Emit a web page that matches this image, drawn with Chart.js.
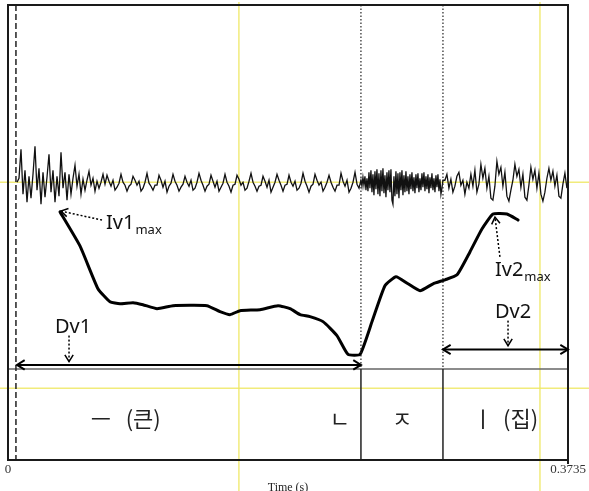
<!DOCTYPE html>
<html>
<head>
<meta charset="utf-8">
<script src="https://cdn.jsdelivr.net/npm/chart.js@4.4.0/dist/chart.umd.min.js"></script>
<style>
html, body { margin: 0; padding: 0; background: #fff; }
</style>
</head>
<body>
<canvas id="speechChart" width="589" height="491"></canvas>
<script>
// time axis (s)
const timeMin = 0;
const timeMax = 0.3735;

// waveform, amplitude in arbitrary units
// vowel part ("ㅡ", "ㄴ"): sample i at onsetStart + i * coarseStep
const onsetStart = 0.006;
const coarseStep = 0.001334;
const onsetValues = [
    0, 4, 33, -12, 12, -20, 6, -16, 8, 36,
    -8, 14, -22, 10, -15, 5, 28, -10, 12, -20,
    6, -14, 30, -6, 10, -18, 8, -12, 4, 17,
    -4, 8, -12, 3, -8, 2, 11, -3, 4, -9,
    1, -6, 0, 8,
    -2, 7, 1, -4, 2, -8, -5,
    -1, 8, 0, -3, -9, -4,
    -2, 6, 2, -3, 1, -9, -6,
    0, 9, -1, -4, -8, -3,
    -3, 7, 2, -5, 1, -10, -4,
    -1, 8, 1, -3, -9, -5,
    -2, 6, 0, -4, 2, -8, -6,
    0, 9, 2, -3, -9, -4,
    -2, 7, 1, -5, 1, -9, -5,
    -1, 8, 0, -4, -10, -3,
    -2, 7, 3, -3, 0, -8, -6,
    1, 9, 0, -4, -9, -4,
    -3, 6, 1, -5, 2, -10, -5,
    0, 8, 2, -3, -9, -3,
    -2, 7, 0, -4, 1, -8, -6,
    -1, 9, 1, -4, -10, -4,
    -2, 8, 2, -3, 0, -9, -5,
    0, 7, 0, -5, -9, -3,
    -3, 9, 1, -4, 2, -10, -6,
    0, 10, -2, -6
];
// affricate "ㅈ": finer sampling
const fricStart = 0.2354;
const fineStep = 0.000667;
const fricValues = [
    2, -4, 5, -3, 6, -8, 4, -9, 10, -6,
    12, -10, 8, -13, 11, -7, 13, -12, 9, -14,
    12, -9, 14, -11, 7, -15, 10, -8, 12, -10,
    13, -18, -22, 6, -14, 11, -12, 9, -16, 10,
    -8, 12, -13, 7, -10, 11, -9, 6, -12, 8,
    -7, 10, -9, 5, -11, 8, -6, 9, -10, 4,
    -8, 9, -5, 10, -9, 6, -7, 8, -11, 5,
    -6, 9, -8, 4, -10, 7, -5, 8, -9, 3, -12, -6, 2
];
// vowel "ㅣ"
const finalStart = 0.2914;
const finalValues = [
    2, 8, -6, 3, -10, -4,
    6, 10, -3, 2, -12, 0, -6,
    8, -4, 12, -10, -2,
    18, 4, 14, -6, 6, -16, -18, -4,
    21, 8, 15, -4, 10, -14, -19, -8, 2,
    18, 6, 13, -5, 8, -15, -18, -3,
    15, 3, 12, -6, 9, -12, -19, -10, 4,
    14, 2, 11, -4, 7, -14, -16, -2, 9, -6
];

// intensity contour (dB)
const intensityTimes = [0.0347, 0.0480, 0.0600, 0.0680, 0.0747, 0.0834, 0.0900, 0.0994, 0.1101, 0.1327,
    0.1414, 0.1481, 0.1547, 0.1681, 0.1801, 0.1881, 0.1948, 0.2014, 0.2101, 0.2194,
    0.2268, 0.2348, 0.2428, 0.2514, 0.2588, 0.2668, 0.2748, 0.2835, 0.2915, 0.2995,
    0.3081, 0.3161, 0.3235, 0.3328, 0.3402];
const intensityDb = [79.8, 71.25, 60.5, 57.25, 56.75, 57.0, 56.5, 55.5, 56.25, 56.25,
    54.75, 54.0, 55.0, 55.25, 56.25, 55.5, 54.0, 53.5, 52.25, 48.75,
    44.0, 44.0, 52.25, 61.25, 63.5, 61.75, 60.0, 61.75, 62.75, 64.0,
    69.75, 75.5, 79.25, 79.25, 77.75];

// text tier: boundaries and labels
const segmentBounds = [0.0053, 0.2354, 0.2901];
const tierLabels = ['ㅡ   (큰)', 'ㄴ', 'ㅈ', 'ㅣ  (집)'];
const tierLabelTimes = [0.0785, 0.2214, 0.2628, 0.3318];

// yellow cursors
const cursorTimes = [0.154, 0.3548];

function line(ctx, x0, y0, x1, y1) {
    ctx.beginPath();
    ctx.moveTo(x0, y0);
    ctx.lineTo(x1, y1);
    ctx.stroke();
}

function arrowHead(ctx, x0, y0, x1, y1, size) {
    const a = Math.atan2(y1 - y0, x1 - x0);
    ctx.save();
    ctx.setLineDash([]);
    ctx.beginPath();
    ctx.moveTo(x1 - size * Math.cos(a - 0.55), y1 - size * Math.sin(a - 0.55));
    ctx.lineTo(x1, y1);
    ctx.lineTo(x1 - size * Math.cos(a + 0.55), y1 - size * Math.sin(a + 0.55));
    ctx.stroke();
    ctx.restore();
}

const sampled = (start, step, values) => values.map((v, i) => ({ x: start + i * step, y: v }));

const praatAnnotations = {
    id: 'praatAnnotations',
    beforeDatasetsDraw(chart) {
        const { ctx, scales: { x, yWave, yInt } } = chart;
        ctx.save();
        ctx.strokeStyle = 'rgba(238, 232, 100, 0.85)';
        ctx.lineWidth = 1.5;
        cursorTimes.forEach(t => {
            const px = x.getPixelForValue(t);
            line(ctx, px, 2, px, chart.height);
        });
        [yWave.getPixelForValue(0), yInt.getPixelForValue(35.5)].forEach(py => {
            line(ctx, 0, py, chart.width, py);
        });
        ctx.restore();
    },
    afterDatasetsDraw(chart) {
        const { ctx, chartArea: area, scales: { x, yInt } } = chart;
        const px = t => x.getPixelForValue(t);
        const py = db => yInt.getPixelForValue(db);
        const tierTop = py(40.375);
        ctx.save();

        // tier line
        ctx.strokeStyle = '#666';
        ctx.lineWidth = 1.5;
        line(ctx, area.left, tierTop, area.right, tierTop);

        // start boundary, dashed
        ctx.strokeStyle = '#222';
        ctx.setLineDash([6, 3]);
        line(ctx, px(segmentBounds[0]), area.top, px(segmentBounds[0]), area.bottom);

        // other boundaries: dotted over the signal, solid in the tier
        segmentBounds.slice(1).forEach(t => {
            ctx.lineWidth = 1.2;
            ctx.setLineDash([1.5, 2]);
            line(ctx, px(t), area.top, px(t), tierTop);
            ctx.setLineDash([]);
            ctx.lineWidth = 1.5;
            line(ctx, px(t), tierTop, px(t), area.bottom);
        });

        // frame
        ctx.setLineDash([]);
        ctx.strokeStyle = '#1a1a1a';
        ctx.lineWidth = 2;
        ctx.strokeRect(area.left, area.top, area.right - area.left, area.bottom - area.top);
        line(ctx, area.right, area.bottom, area.right, area.bottom + 4);

        // tier labels
        ctx.fillStyle = '#222';
        ctx.font = '22px "Noto Sans CJK KR"';
        ctx.textAlign = 'center';
        ctx.textBaseline = 'middle';
        tierLabels.forEach((lab, i) => ctx.fillText(lab, px(tierLabelTimes[i]), py(28)));

        // duration arrows
        ctx.strokeStyle = '#000';
        ctx.lineWidth = 2;
        [[segmentBounds[0] + 0.0007, segmentBounds[1], 41.375], [segmentBounds[2], timeMax, 45.25]].forEach(([t0, t1, db]) => {
            const y = py(db);
            line(ctx, px(t0), y, px(t1), y);
            arrowHead(ctx, px(t1), y, px(t0), y, 9);
            arrowHead(ctx, px(t0), y, px(t1), y, 9);
        });

        // dotted pointer arrows
        ctx.lineWidth = 1.5;
        [[0.0627, 77.75, 0.0353, 80.0], [0.0407, 48.75, 0.0407, 42.2],
         [0.3281, 68.5, 0.3248, 78.5], [0.3335, 52.5, 0.3335, 46.2]].forEach(([t0, d0, t1, d1]) => {
            ctx.setLineDash([2, 2]);
            line(ctx, px(t0), py(d0), px(t1), py(d1));
            arrowHead(ctx, px(t0), py(d0), px(t1), py(d1), 8);
        });

        // measure labels
        ctx.setLineDash([]);
        ctx.fillStyle = '#111';
        ctx.textAlign = 'left';
        ctx.textBaseline = 'alphabetic';
        [['Iv', '1', 0.0654, 75.5], ['Iv', '2', 0.3248, 63.75]].forEach(([a, n, t, db]) => {
            ctx.font = '20px "Noto Sans"';
            const txt = a + n;
            ctx.fillText(txt, px(t), py(db));
            const w = ctx.measureText(txt).width;
            ctx.font = '13px "Noto Sans"';
            ctx.fillText('max', px(t) + w + 1, py(db) + 5);
        });
        ctx.font = '20px "Noto Sans"';
        ctx.fillText('Dv1', px(0.0313), py(49.5));
        ctx.fillText('Dv2', px(0.3248), py(53.25));
        ctx.restore();
    }
};

new Chart(document.getElementById('speechChart'), {
    type: 'line',
    data: {
        datasets: [{
            label: 'Waveform',
            data: sampled(onsetStart, coarseStep, onsetValues)
                .concat(sampled(fricStart, fineStep, fricValues))
                .concat(sampled(finalStart, coarseStep, finalValues)),
            yAxisID: 'yWave',
            borderColor: '#111',
            borderWidth: 1.3,
            pointRadius: 0,
            tension: 0
        }, {
            label: 'Intensity (dB)',
            data: intensityTimes.map((t, i) => ({ x: t, y: intensityDb[i] })),
            yAxisID: 'yInt',
            borderColor: '#000',
            borderWidth: 3,
            pointRadius: 0,
            tension: 0.15,
            borderJoinStyle: 'round',
            borderCapStyle: 'round'
        }]
    },
    options: {
        responsive: false,
        animation: false,
        layout: { padding: { left: 8, right: 21, top: 5, bottom: -4 } },
        plugins: {
            legend: { display: false },
            tooltip: { enabled: false }
        },
        scales: {
            x: {
                type: 'linear',
                min: timeMin,
                max: timeMax,
                grid: { display: false, drawTicks: false },
                border: { display: false },
                afterBuildTicks: axis => { axis.ticks = [{ value: timeMin }, { value: timeMax }]; },
                ticks: {
                    autoSkip: false,
                    maxRotation: 0,
                    padding: 2,
                    color: '#333',
                    font: { family: 'Liberation Serif', size: 13 },
                    callback: v => (v === 0 ? '0' : String(v))
                },
                title: {
                    display: true,
                    text: 'Time (s)',
                    color: '#222',
                    font: { family: 'Liberation Serif', size: 12 },
                    padding: { top: 1, bottom: 0 }
                }
            },
            yWave: { type: 'linear', display: false, min: -279, max: 178 },
            yInt: { type: 'linear', display: false, min: 17.5, max: 131.75 }
        }
    },
    plugins: [praatAnnotations]
});
</script>
</body>
</html>
